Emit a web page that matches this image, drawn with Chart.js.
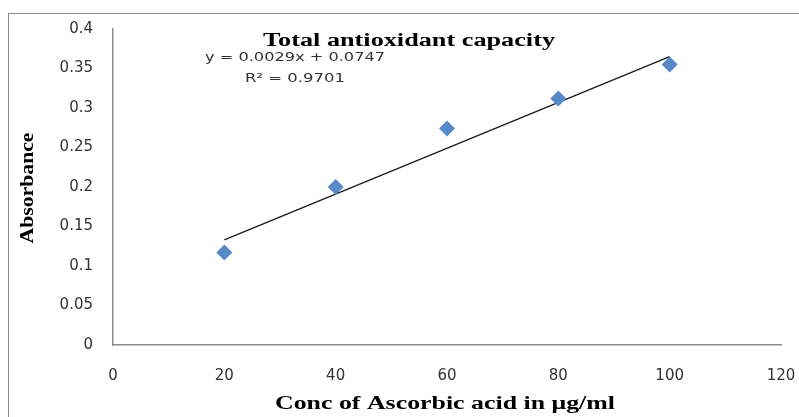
<!DOCTYPE html>
<html>
<head>
<meta charset="utf-8">
<script src="https://cdn.jsdelivr.net/npm/chart.js@4"></script>
<style>
html,body{margin:0;padding:0;background:#fff;}
#wrap{width:799px;height:417px;position:relative;}
</style>
</head>
<body>
<div id="wrap"><canvas id="c" width="799" height="417"></canvas></div>
<script>
// ---- data ----
const concentrations = [20, 40, 60, 80, 100];
const absorbance = [0.117, 0.200, 0.274, 0.312, 0.355];
const trendX = [20, 100];
const trendY = [0.133, 0.365];
const xTickLabels = ['0', '20', '40', '60', '80', '100', '120'];
const yTickLabels = ['0', '0.05', '0.1', '0.15', '0.2', '0.25', '0.3', '0.35', '0.4'];
const chartTitle = 'Total antioxidant capacity';
const equationText = 'y = 0.0029x + 0.0747';
const r2Text = 'R\u00B2 = 0.9701';
const xTitle = 'Conc of Ascorbic acid in \u03BCg/ml';
const yTitle = 'Absorbance';

function fitText(ctx, text, cx, baseline, width, font, color, rotate) {
  ctx.save();
  ctx.font = font;
  ctx.fillStyle = color;
  ctx.textAlign = 'center';
  ctx.textBaseline = 'alphabetic';
  const w = ctx.measureText(text).width;
  ctx.translate(cx, baseline);
  if (rotate) ctx.rotate(-Math.PI / 2);
  ctx.scale(width / w, 1);
  ctx.fillText(text, 0, 0);
  ctx.restore();
}

const decor = {
  id: 'decor',
  beforeDraw(chart) {
    const ctx = chart.ctx;
    ctx.save();
    ctx.fillStyle = '#fff';
    ctx.fillRect(0, 0, chart.width, chart.height);
    ctx.strokeStyle = '#8c8c8c';
    ctx.lineWidth = 1;
    ctx.strokeRect(8.5, 13.5, 1000, 1000);
    ctx.restore();
  },
  afterDraw(chart) {
    const ctx = chart.ctx;
    fitText(ctx, chartTitle, 409, 46, 292, 'bold 18px "Liberation Serif"', '#000');
    fitText(ctx, equationText, 295, 61, 180, '12px "DejaVu Sans"', '#333');
    fitText(ctx, r2Text, 295, 82, 100, '12px "DejaVu Sans"', '#333');
    fitText(ctx, xTitle, 445, 409, 340, 'bold 18px "Liberation Serif"', '#000');
    fitText(ctx, yTitle, 33, 188, 111, 'bold 18px "Liberation Serif"', '#000', true);
  }
};

const tickFont = { family: 'DejaVu Sans', size: 15 };

new Chart(document.getElementById('c'), {
  type: 'scatter',
  data: {
    datasets: [
      {
        label: 'Absorbance',
        data: concentrations.map((x, i) => ({ x: x, y: absorbance[i] })),
        pointStyle: 'rectRot',
        pointRadius: 8,
        pointHoverRadius: 8,
        backgroundColor: '#5789c9',
        borderColor: '#5789c9',
        borderWidth: 0,
        order: 1
      },
      {
        label: 'Linear trend',
        type: 'line',
        data: trendX.map((x, i) => ({ x: x, y: trendY[i] })),
        borderColor: '#1a1a1a',
        borderWidth: 1.3,
        pointRadius: 0,
        fill: false,
        order: 2
      }
    ]
  },
  options: {
    responsive: false,
    animation: false,
    layout: { padding: { left: 0, top: 27, right: 0, bottom: 0 } },
    plugins: { legend: { display: false }, tooltip: { enabled: false }, title: { display: false } },
    scales: {
      x: {
        type: 'linear',
        min: 0, max: 120,
        grid: { display: false, drawTicks: false },
        border: { display: true, color: '#8c8c8c', width: 1.5 },
        ticks: {
          stepSize: 20, padding: 22, font: tickFont, color: '#333', maxRotation: 0,
          callback: (v, i) => xTickLabels[i]
        },
        afterFit: s => { s.height = 72; s.paddingRight = 18; }
      },
      y: {
        type: 'linear',
        min: 0, max: 0.4,
        grid: { display: false, drawTicks: false },
        border: { display: true, color: '#8c8c8c', width: 1.5 },
        ticks: {
          stepSize: 0.05, padding: 20, font: tickFont, color: '#333',
          callback: (v, i) => yTickLabels[i]
        },
        afterFit: s => { s.width = 113; }
      }
    }
  },
  plugins: [decor]
});
</script>
</body>
</html>
